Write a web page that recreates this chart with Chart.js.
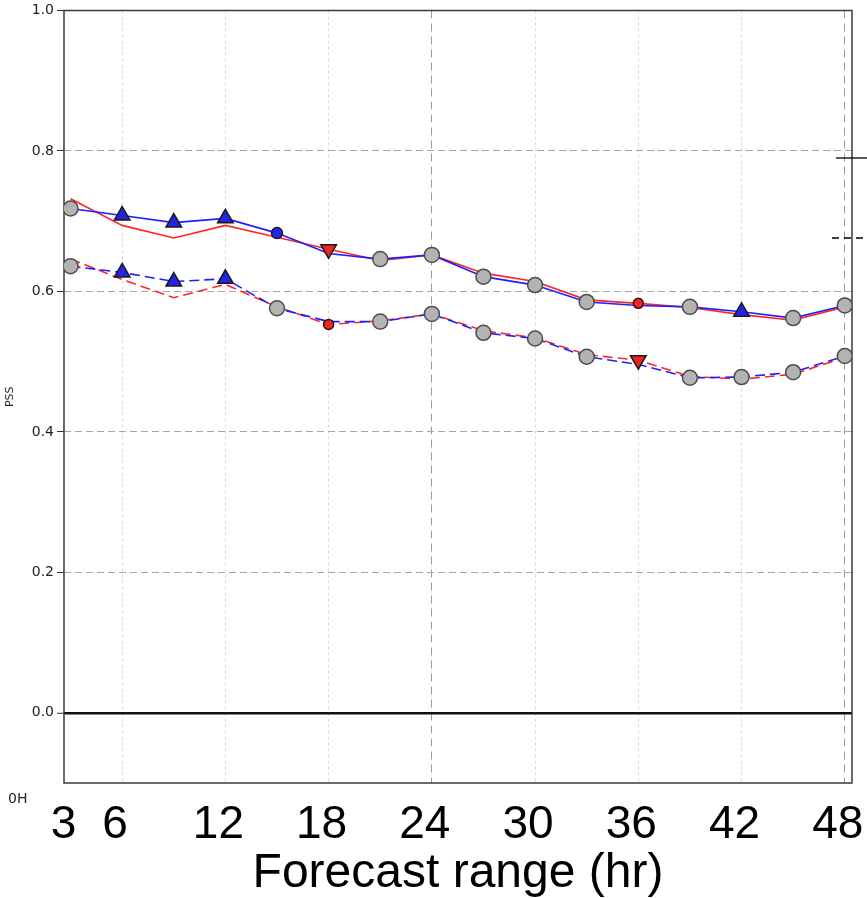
<!DOCTYPE html>
<html>
<head>
<meta charset="utf-8">
<script src="https://cdn.jsdelivr.net/npm/chart.js@4"></script>
<style>
  html, body { margin: 0; padding: 0; background: #fff; }
  #wrap { width: 867px; height: 898px; }
</style>
</head>
<body>
<div id="wrap"><canvas id="chart"></canvas></div>
<script>
const hours = [3, 6, 9, 12, 15, 18, 21, 24, 27, 30, 33, 36, 39, 42, 45, 48];
const xTicks = [3, 6, 12, 18, 24, 30, 36, 42, 48];
const yTicks = [0, 0.2, 0.4, 0.6, 0.8, 1.0];

const blueSolid = [0.718, 0.708, 0.698, 0.704, 0.683, 0.654, 0.646, 0.652, 0.621, 0.609, 0.585, 0.580, 0.578, 0.571, 0.562, 0.580];
const redSolid = [0.732, 0.694, 0.676, 0.694, 0.677, 0.660, 0.644, 0.652, 0.626, 0.614, 0.588, 0.583, 0.577, 0.567, 0.559, 0.578];
const blueDashed = [0.636, 0.627, 0.614, 0.618, 0.576, 0.557, 0.557, 0.568, 0.541, 0.533, 0.507, 0.496, 0.477, 0.478, 0.485, 0.508];
const redDashed = [0.646, 0.617, 0.591, 0.610, 0.578, 0.553, 0.558, 0.568, 0.544, 0.534, 0.510, 0.502, 0.479, 0.475, 0.482, 0.506];

// g = no difference, bt = blue triangle, bc = blue circle, rv = red down triangle, rc = red circle
const solidMarks = ["g", "bt", "bt", "bt", "bc", "rv", "g", "g", "g", "g", "g", "rc", "g", "bt", "g", "g"];
const dashedMarks = ["g", "bt", "bt", "bt", "g", "rc", "g", "g", "g", "g", "g", "rv", "g", "g", "g", "g"];

const BLUE = "#1f1fff";
const RED = "#ff2626";

const markStyles = {
  g: { style: "circle", radius: 7.5, rotation: 0, fill: "#b3b3b3", edge: "#4d4d4d", from: "blue" },
  bt: { style: "triangle", radius: 9, rotation: 0, fill: "#2424e6", edge: "#1a1a1a", from: "blue" },
  bc: { style: "circle", radius: 5.5, rotation: 0, fill: "#2424f0", edge: "#1a1a1a", from: "blue" },
  rv: { style: "triangle", radius: 9, rotation: 180, fill: "#f02424", edge: "#1a1a1a", from: "red" },
  rc: { style: "circle", radius: 5, rotation: 0, fill: "#f02424", edge: "#3a1010", from: "red" },
};

function markerSets(marks, blue, red) {
  return Object.keys(markStyles).map((code) => {
    const s = markStyles[code];
    const src = s.from === "blue" ? blue : red;
    return {
      label: code,
      data: marks.map((m, i) => (m === code ? src[i] : null)),
      showLine: false,
      pointStyle: s.style,
      pointRotation: s.rotation,
      pointRadius: s.radius,
      pointBackgroundColor: s.fill,
      pointBorderColor: s.edge,
      pointBorderWidth: 1.5,
    };
  });
}

function lineSet(data, color, dashed) {
  return {
    data: data,
    borderColor: color,
    borderWidth: 1.6,
    borderDash: dashed ? [10, 5] : [],
    pointRadius: 0,
    fill: false,
    tension: 0,
  };
}

const framePlugin = {
  id: "frame",
  beforeDatasetsDraw(chart) {
    const { ctx, chartArea: a } = chart;
    ctx.save();
    ctx.strokeStyle = "#3a3a3a";
    ctx.lineWidth = 1.5;
    ctx.strokeRect(a.left, a.top, a.right - a.left, a.bottom - a.top);
    ctx.restore();
  },
  afterDraw(chart) {
    const { ctx, chartArea: a } = chart;
    ctx.save();
    // legend samples cut off at the right edge
    ctx.strokeStyle = "#000";
    ctx.lineWidth = 1.3;
    ctx.beginPath();
    ctx.moveTo(a.right - 16, 158);
    ctx.lineTo(chart.width, 158);
    ctx.stroke();
    ctx.setLineDash([7, 5]);
    ctx.beginPath();
    ctx.moveTo(a.right - 20, 238);
    ctx.lineTo(chart.width, 238);
    ctx.stroke();
    ctx.setLineDash([]);
    ctx.fillStyle = "#222";
    ctx.font = "14px 'DejaVu Sans'";
    ctx.textBaseline = "alphabetic";
    ctx.fillText("0H", 8, 803);
    ctx.restore();
  },
};

new Chart(document.getElementById("chart"), {
  type: "line",
  data: {
    labels: hours,
    datasets: [
      ...markerSets(solidMarks, blueSolid, redSolid),
      ...markerSets(dashedMarks, blueDashed, redDashed),
      lineSet(blueSolid, BLUE, false),
      lineSet(redSolid, RED, false),
      lineSet(blueDashed, BLUE, true),
      lineSet(redDashed, RED, true),
    ],
  },
  options: {
    responsive: true,
    maintainAspectRatio: false,
    animation: false,
    devicePixelRatio: 1,
    layout: { padding: { top: 8, right: 15, left: 0, bottom: 0 } },
    plugins: { legend: { display: false }, tooltip: { enabled: false } },
    scales: {
      x: {
        type: "linear",
        min: 2.62,
        max: 48.42,
        afterBuildTicks: (s) => {
          s.ticks = xTicks.map((v) => ({ value: v }));
        },
        afterFit: (s) => {
          s.height = 115;
          s.paddingLeft = 0;
          s.paddingRight = 0;
        },
        border: {
          display: false,
          dash: (c) => (c.tick && (c.tick.value === 24 || c.tick.value === 48) ? [8, 5] : [3, 3]),
        },
        grid: {
          drawTicks: false,
          lineWidth: 1,
          color: (c) => {
            const v = c.tick && c.tick.value;
            if (v === 24 || v === 48) return "#9a9a9a";
            if (v === 3) return "rgba(0,0,0,0)";
            return "#d9d9d9";
          },
        },
        ticks: {
          autoSkip: false,
          maxRotation: 0,
          padding: 15,
          labelOffset: -7,
          color: "#000",
          font: { family: "'Liberation Sans', Arial, sans-serif", size: 46 },
          callback: (v) => String(v),
        },
        title: {
          display: true,
          text: "Forecast range (hr)",
          color: "#000",
          font: { family: "'Liberation Sans', Arial, sans-serif", size: 48, lineHeight: 1 },
          padding: 0,
        },
      },
      y: {
        min: -0.1,
        max: 1.0,
        afterBuildTicks: (s) => {
          s.ticks = yTicks.map((v) => ({ value: v }));
        },
        afterFit: (s) => {
          s.width = 64;
          s.paddingTop = 0;
          s.paddingBottom = 0;
        },
        border: {
          display: false,
          dash: (c) => (c.tick && c.tick.value === 0 ? [] : [7, 4]),
        },
        grid: {
          tickLength: 7,
          tickColor: "#333",
          tickWidth: 1,
          lineWidth: (c) => (c.tick && c.tick.value === 0 ? 2.5 : 1),
          color: (c) => {
            const v = c.tick && c.tick.value;
            if (v === 0) return "#111";
            if (v === 1) return "rgba(0,0,0,0)";
            return "#a6a6a6";
          },
        },
        ticks: {
          padding: 3,
          color: "#222",
          font: { family: "'DejaVu Sans', sans-serif", size: 14 },
          callback: (v) => Number(v).toFixed(1),
        },
        title: {
          display: true,
          text: "PSS",
          color: "#222",
          font: { family: "'DejaVu Sans', sans-serif", size: 11 },
          padding: { top: 4, bottom: 4 },
        },
      },
    },
  },
  plugins: [framePlugin],
});
</script>
</body>
</html>
